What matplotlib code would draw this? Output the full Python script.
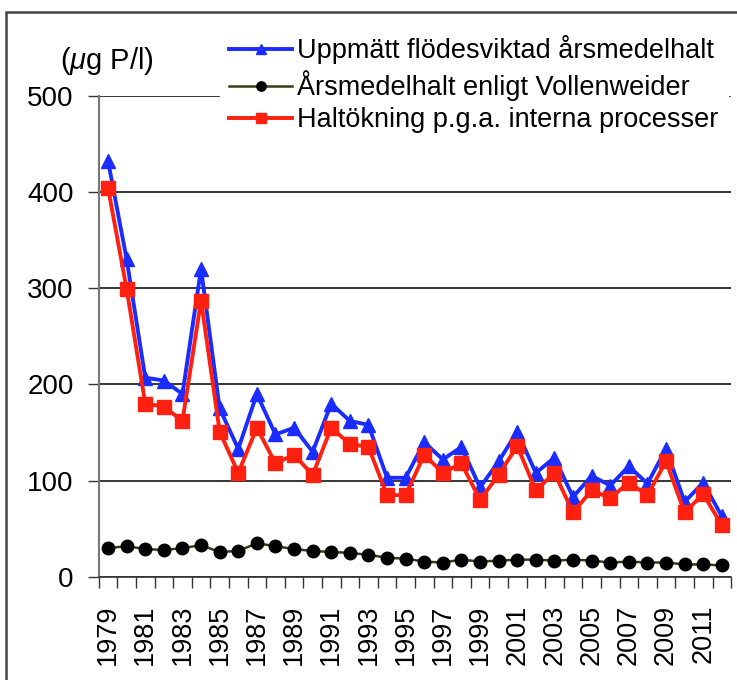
import matplotlib
matplotlib.use("Agg")
import matplotlib.pyplot as plt
from matplotlib.patches import Rectangle

plt.rcParams['font.family'] = ['Liberation Sans', 'DejaVu Sans']
plt.rcParams['mathtext.fontset'] = 'custom'
plt.rcParams['mathtext.it'] = 'Liberation Sans:italic'
plt.rcParams['mathtext.rm'] = 'Liberation Sans'

years = list(range(1979, 2013))
uppmatt = [432, 330, 207, 204, 190, 320, 175, 133, 190, 148, 155, 130, 180, 162, 158,
           103, 103, 140, 122, 135, 93, 120, 151, 108, 124, 83, 105, 95, 115, 97, 133,
           78, 98, 63]
vollenweider = [30, 32, 29, 28, 30, 33, 26, 27, 35, 32, 29, 27, 26, 25, 23, 20, 19, 16,
                15, 18, 16, 17, 18, 18, 17, 18, 17, 15, 16, 15, 15, 13, 13, 12]
haltokning = [404, 299, 180, 177, 162, 287, 151, 108, 155, 118, 127, 106, 155, 138, 135,
              85, 85, 127, 108, 118, 80, 106, 136, 90, 108, 67, 90, 82, 98, 85, 120,
              67, 86, 54]
labels = ["Uppmätt flödesviktad årsmedelhalt",
          "Årsmedelhalt enligt Vollenweider",
          "Haltökning p.g.a. interna processer"]
yticks = [0, 100, 200, 300, 400, 500]

fig = plt.figure(figsize=(7.37, 6.8), dpi=100)
ax = fig.add_axes([0.134, 0.1515, 0.858, 0.708])
x = list(range(len(years)))

ax.plot(x, uppmatt, color='#1a2cff', marker='^', ms=10, lw=2.8, label=labels[0], zorder=3)
ax.plot(x, vollenweider, color='#3a3a14', marker='o', ms=9, mfc='black', mec='black',
        lw=1.8, label=labels[1], zorder=2)
ax.plot(x, haltokning, color='#ff2010', marker='s', ms=9.5, lw=2.8, label=labels[2], zorder=4)

ax.set_ylim(0, 500)
ax.set_xlim(-0.45, len(years) - 0.5)
ax.set_yticks(yticks)
ax.set_yticklabels([str(v) for v in yticks], fontsize=20)
ax.yaxis.grid(True, color='black', lw=1.1)
ax.set_axisbelow(True)
ax.tick_params(axis='y', length=8, width=1, color='#333333', pad=10)

ax.set_xticks(x[::2])
ax.set_xticklabels([str(y) for y in years[::2]], rotation=90, fontsize=19.5)
ax.set_xticks([i - 0.5 for i in range(len(years) + 1)], minor=True)
ax.tick_params(axis='x', which='major', length=0, pad=20)
ax.tick_params(axis='x', which='minor', length=8, width=1, color='#333333')

for s in ['top', 'right']:
    ax.spines[s].set_visible(False)
ax.spines['left'].set_color('#777777')
ax.spines['left'].set_linewidth(1.5)
ax.spines['bottom'].set_color('#333333')
ax.spines['bottom'].set_linewidth(1.2)

leg = ax.legend(loc='upper left', bbox_to_anchor=(220 / 737, 1 - 26 / 680),
                bbox_transform=fig.transFigure, borderaxespad=0, frameon=True,
                fontsize=19.5, handlelength=2.3, handletextpad=0.2, borderpad=0.35,
                labelspacing=0.22, markerscale=0.75, fancybox=False)
leg.get_frame().set_edgecolor('white')
leg.get_frame().set_facecolor('white')
leg.get_frame().set_alpha(1)

fig.text(0.081, 1 - 61 / 680, r'($\mathit{\mu}$g P/l)', fontsize=21, ha='left', va='center')

fig.patches.append(Rectangle((0.008, -0.1), 1.1, 1.082, transform=fig.transFigure,
                             fill=False, edgecolor='#444444', lw=1.8))

fig.savefig('out.png', dpi=100)
